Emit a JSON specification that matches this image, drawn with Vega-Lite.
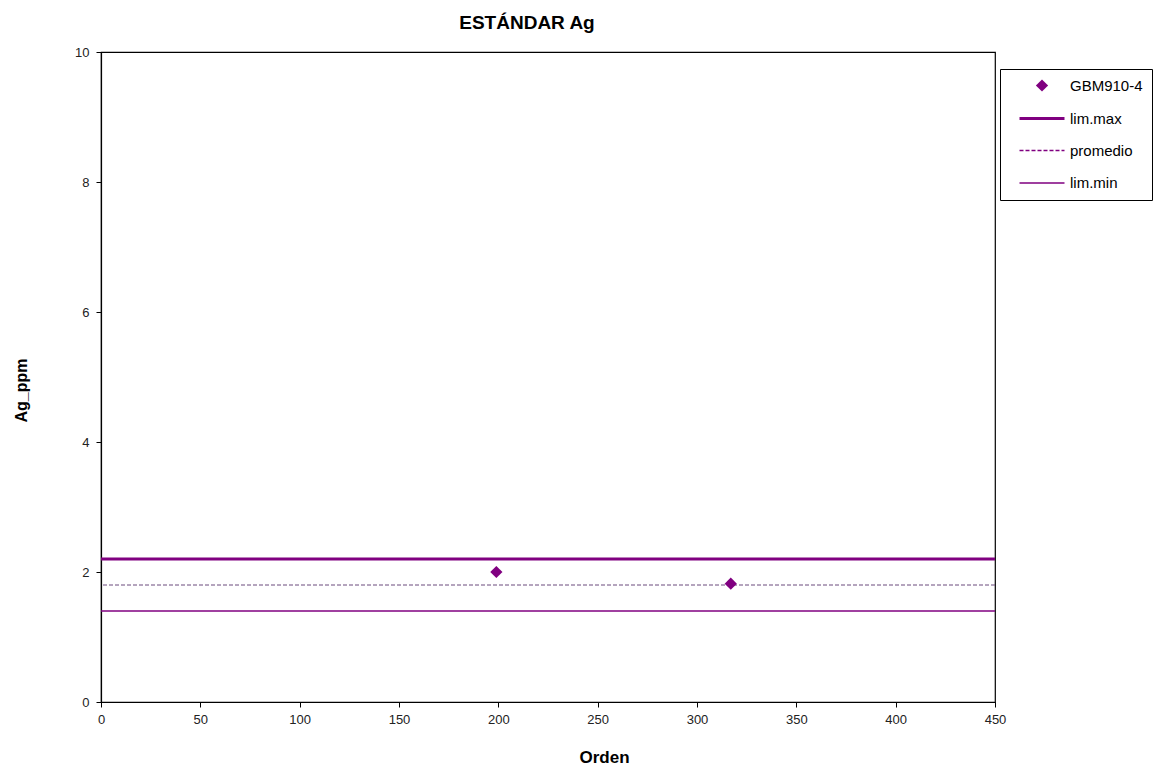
{
  "$schema": "https://vega.github.io/schema/vega-lite/v6.json",
  "autosize": "none",
  "width": 894,
  "height": 650,
  "padding": {"left": 101, "top": 52, "right": 176, "bottom": 72},
  "background": "white",
  "title": {"text": "ESTÁNDAR Ag", "font": "Liberation Sans", "fontSize": 19, "fontWeight": "bold", "color": "black", "anchor": "middle", "dx": -21, "offset": 13},
  "config": {
    "view": {"stroke": "black", "strokeWidth": 1.2},
    "axis": {"grid": false, "domainColor": "black", "domainWidth": 1.2, "tickColor": "black", "tickSize": 5, "labelFont": "Liberation Sans", "labelFontSize": 13, "labelColor": "#222", "titleFont": "Liberation Sans", "titleFontWeight": "bold", "titleColor": "black"}
  },
  "datasets": {
    "puntos": [
      {"orden": 199, "ag": 2.0, "serie": "GBM910-4"},
      {"orden": 317, "ag": 1.82, "serie": "GBM910-4"}
    ],
    "limites": [
      {"serie": "lim.max", "valor": 2.2},
      {"serie": "promedio", "valor": 1.8},
      {"serie": "lim.min", "valor": 1.4}
    ]
  },
  "layer": [
    {
      "data": {"name": "limites"},
      "transform": [{"filter": "datum.serie === 'lim.max'"}],
      "mark": {"type": "rule", "color": "#800080", "strokeWidth": 3},
      "encoding": {"y": {"field": "valor", "type": "quantitative"}}
    },
    {
      "data": {"name": "limites"},
      "transform": [{"filter": "datum.serie === 'promedio'"}],
      "mark": {"type": "rule", "color": "#6A4A7C", "strokeWidth": 1, "strokeDash": [4, 2]},
      "encoding": {"y": {"field": "valor", "type": "quantitative"}}
    },
    {
      "data": {"name": "limites"},
      "transform": [{"filter": "datum.serie === 'lim.min'"}],
      "mark": {"type": "rule", "color": "#800080", "strokeWidth": 1.5},
      "encoding": {"y": {"field": "valor", "type": "quantitative"}}
    },
    {
      "data": {"name": "puntos"},
      "mark": {"type": "point", "opacity": 1},
      "encoding": {
        "x": {"field": "orden", "type": "quantitative", "title": "Orden", "scale": {"domain": [0, 450], "nice": false}, "axis": {"values": [0, 50, 100, 150, 200, 250, 300, 350, 400, 450], "labelPadding": 6, "labelFlush": false, "titleFontSize": 17, "titleX": 503, "titleY": 60, "titleBaseline": "alphabetic", "titleAnchor": "middle", "titleAlign": "center"}},
        "y": {"field": "ag", "type": "quantitative", "title": "Ag_ppm", "scale": {"domain": [0, 10], "nice": false}, "axis": {"values": [0, 2, 4, 6, 8, 10], "format": "d", "labelPadding": 7, "titleFontSize": 16, "titleX": -80, "titleY": 338, "titleBaseline": "middle", "titleAngle": 270, "titleAlign": "center"}},
        "shape": {
          "field": "serie", "type": "nominal",
          "scale": {"domain": ["GBM910-4", "lim.max", "promedio", "lim.min"], "range": ["diamond", "M-3,0H3", "M-3,0H3", "M-3,0H3"]},
          "legend": {
            "title": null,
            "orient": "none",
            "legendX": 899,
            "legendY": 17,
            "strokeColor": "black",
            "fillColor": "white",
            "padding": 9,
            "symbolOffset": 24,
            "rowPadding": 15.5,
            "labelFont": "Liberation Sans",
            "labelFontSize": 15,
            "labelColor": "black",
            "labelOffset": 19,
            "labelLimit": 200
          }
        },
        "size": {"field": "serie", "type": "nominal", "scale": {"type": "ordinal", "domain": ["GBM910-4", "lim.max", "promedio", "lim.min"], "range": [150, 225, 225, 225]}},
        "strokeWidth": {"field": "serie", "type": "nominal", "scale": {"type": "ordinal", "domain": ["GBM910-4", "lim.max", "promedio", "lim.min"], "range": [0, 3, 1.4, 1.5]}},
        "strokeDash": {"field": "serie", "type": "nominal", "scale": {"domain": ["GBM910-4", "lim.max", "promedio", "lim.min"], "range": [[1, 0], [1, 0], [4, 2], [1, 0]]}},
        "fill": {"field": "serie", "type": "nominal", "scale": {"domain": ["GBM910-4", "lim.max", "promedio", "lim.min"], "range": ["#800080", "transparent", "transparent", "transparent"]}},
        "stroke": {"field": "serie", "type": "nominal", "scale": {"domain": ["GBM910-4", "lim.max", "promedio", "lim.min"], "range": ["#800080", "#800080", "#800080", "#800080"]}}
      }
    }
  ]
}
